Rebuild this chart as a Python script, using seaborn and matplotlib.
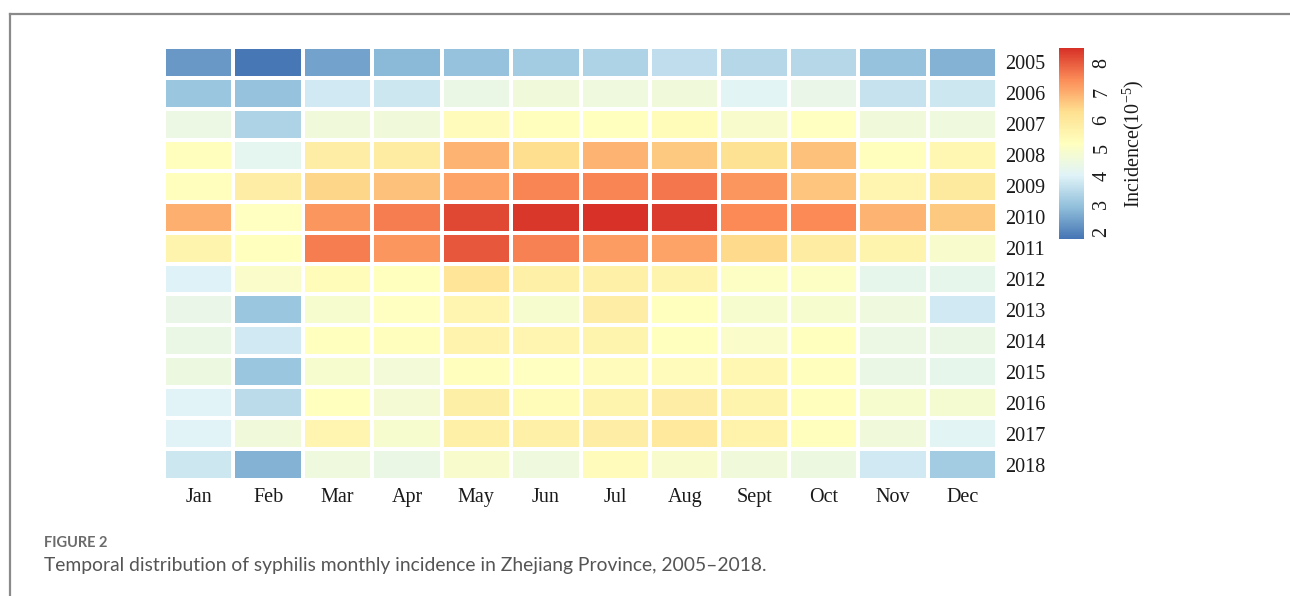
import numpy as np
import pandas as pd
import matplotlib
matplotlib.use('Agg')
import matplotlib.pyplot as plt
import seaborn as sns
from matplotlib.colors import LinearSegmentedColormap
from matplotlib.lines import Line2D

months = ['Jan', 'Feb', 'Mar', 'Apr', 'May', 'Jun', 'Jul', 'Aug', 'Sept', 'Oct', 'Nov', 'Dec']
years = [str(y) for y in range(2005, 2019)]

# monthly incidence (1/10^5)
inc_2005 = [2.3, 1.8, 2.45, 2.8, 2.95, 3.15, 3.3, 3.55, 3.4, 3.4, 2.95, 2.7]
inc_2006 = [3.05, 2.95, 3.8, 3.75, 4.4, 4.6, 4.55, 4.6, 4.1, 4.35, 3.65, 3.75]
inc_2007 = [4.45, 3.3, 4.6, 4.6, 5.25, 5.2, 5.15, 5.3, 4.9, 5.1, 4.6, 4.55]
inc_2008 = [5.2, 4.2, 5.8, 5.85, 6.9, 6.3, 6.9, 6.6, 6.2, 6.7, 5.2, 5.45]
inc_2009 = [5.2, 5.8, 6.4, 6.7, 7.1, 7.5, 7.5, 7.7, 7.3, 6.65, 5.5, 5.9]
inc_2010 = [6.95, 5.1, 7.3, 7.6, 8.25, 8.45, 8.5, 8.4, 7.45, 7.45, 6.9, 6.6]
inc_2011 = [5.55, 5.15, 7.6, 7.3, 8.05, 7.55, 7.2, 7.1, 6.35, 5.85, 5.55, 4.9]
inc_2012 = [4.0, 4.95, 5.3, 5.15, 6.1, 5.7, 5.7, 5.55, 5.05, 5.05, 4.3, 4.3]
inc_2013 = [4.35, 3.05, 4.85, 5.1, 5.5, 4.85, 5.8, 5.15, 4.85, 4.85, 4.55, 3.8]
inc_2014 = [4.4, 3.8, 5.15, 5.2, 5.6, 5.5, 5.55, 5.15, 4.95, 5.15, 4.45, 4.4]
inc_2015 = [4.5, 3.05, 4.85, 4.65, 5.2, 5.1, 5.25, 5.25, 5.45, 5.2, 4.4, 4.3]
inc_2016 = [4.05, 3.5, 5.15, 4.75, 5.75, 5.3, 5.55, 5.8, 5.55, 5.2, 4.85, 4.8]
inc_2017 = [4.05, 4.6, 5.5, 4.85, 5.7, 5.7, 5.8, 5.95, 5.65, 5.2, 4.6, 4.1]
inc_2018 = [3.75, 2.7, 4.55, 4.4, 4.9, 4.55, 5.25, 4.9, 4.6, 4.5, 3.8, 3.15]

cbar_ticks = [2, 3, 4, 5, 6, 7, 8]

df = pd.DataFrame([inc_2005, inc_2006, inc_2007, inc_2008, inc_2009, inc_2010, inc_2011,
                   inc_2012, inc_2013, inc_2014, inc_2015, inc_2016, inc_2017, inc_2018],
                  index=years, columns=months)

# pheatmap-like palette (rev RdYlBu, 7 colours)
cmap = LinearSegmentedColormap.from_list(
    'rdylbu7', ['#4575B4', '#91BFDB', '#E0F3F8', '#FFFFBF', '#FEE090', '#FC8D59', '#D73027'])

plt.rcParams['mathtext.fontset'] = 'custom'
plt.rcParams['mathtext.rm'] = 'Liberation Serif'

W, H = 1290, 596
fig = plt.figure(figsize=(W / 100, H / 100), dpi=100)
ax = fig.add_axes([164 / W, 1 - 480 / H, 833 / W, 433 / H])
cax = fig.add_axes([1059 / W, 1 - 239 / H, 25 / W, 191 / H])

serif = ['Liberation Serif', 'DejaVu Serif']

sns.heatmap(df, ax=ax, cbar_ax=cax, cmap=cmap, vmin=1.75, vmax=8.55,
            linewidths=1.6, linecolor='white',
            cbar_kws={'ticks': cbar_ticks})

ax.yaxis.tick_right()
ax.tick_params(axis='both', length=0, pad=6)
ax.set_yticklabels(years, rotation=0, fontsize=14.5, family=serif, color='#1a1a1a')
ax.set_xticklabels(months, rotation=0, fontsize=14.5, family=serif, color='#1a1a1a')
ax.set_xlabel('')
ax.set_ylabel('')

cax.tick_params(length=0, pad=6)
for sp in cax.spines.values():
    sp.set_visible(False)
cax.set_yticklabels([str(t) for t in cbar_ticks], rotation=90, va='center',
                    fontsize=14.5, family=serif, color='#1a1a1a')
cax.set_ylabel('Incidence(10$^{\\mathrm{-5}}$)', fontsize=14.5, family=serif, color='#1a1a1a',
               labelpad=6)
cax.yaxis.set_label_position('right')

# frame around the figure panel
fig.add_artist(Line2D([9.5 / W, 1], [1 - 14 / H, 1 - 14 / H], color='#8a8a8a', lw=1.6))
fig.add_artist(Line2D([9.5 / W, 9.5 / W], [0, 1 - 14 / H], color='#8a8a8a', lw=1.6))

cap_font = ['Lato', 'DejaVu Sans']
fig.text(44 / W, 1 - 543 / H, 'FIGURE 2', fontsize=10.5, family=cap_font,
         color='#6b6b6b', weight='bold', va='center')
fig.text(44 / W, 1 - 565 / H,
         'Temporal distribution of syphilis monthly incidence in Zhejiang Province, 2005\u20132018.',
         fontsize=13.9, family=cap_font, color='#555555', va='center')

fig.savefig('out.png', dpi=100)
